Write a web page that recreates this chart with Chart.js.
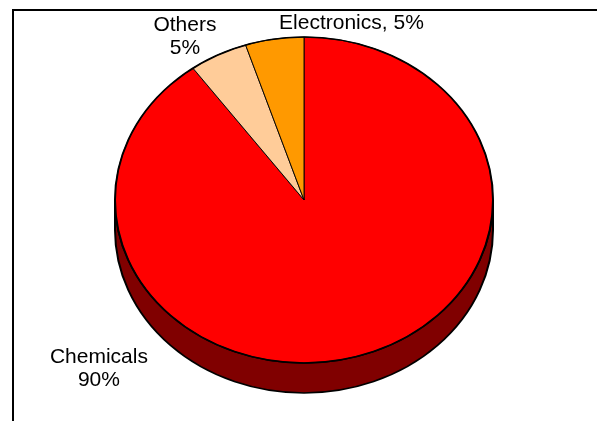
<!DOCTYPE html>
<html lang="en">
<head>
    <meta charset="UTF-8">
    <title>Market share 3D pie</title>
    <script src="https://cdn.jsdelivr.net/npm/chart.js"></script>
    <style>
        body {
            margin: 0;
            padding: 0;
            background: #fff;
        }
        .container {
            position: relative;
            width: 597px;
            height: 421px;
        }
    </style>
</head>
<body>
    <div class="container">
        <canvas id="grafico"></canvas>
    </div>

    <script>
        // data
        const categories = ['Chemicals', 'Others', 'Electronics'];
        const shares = [90, 5, 5];

        // styles
        const topColors = ['#FF0000', '#FFCC99', '#FF9900'];
        const sideColors = ['#800000', '#806650', '#804C00'];
        // label anchor (centre x, first baseline) as fractions of the radii
        const labelLayout = [
            { fx: -1.085, fy: 1.0, stacked: true },
            { fx: -0.63, fy: -1.037, stacked: true },
            { fx: 0.251, fy: -1.049, stacked: false }
        ];
        const TILT = 163 / 189;   // vertical squash of the pie top
        const DEPTH = 30;         // thickness of the side wall, px

        const pie3d = {
            id: 'pie3d',
            beforeDraw(chart) {
                // chart frame (only top and left edges fall inside the picture)
                const ctx = chart.ctx;
                ctx.save();
                ctx.strokeStyle = '#000';
                ctx.lineWidth = 2;
                ctx.beginPath();
                ctx.moveTo(13, chart.height);
                ctx.lineTo(13, 10);
                ctx.lineTo(chart.width, 10);
                ctx.stroke();
                ctx.restore();
            },
            beforeDatasetsDraw(chart) {
                const ctx = chart.ctx;
                const arcs = chart.getDatasetMeta(0).data;
                const cx = arcs[0].x, cy = arcs[0].y, r = arcs[0].outerRadius;
                const d = DEPTH / TILT;
                ctx.save();
                ctx.translate(cx, cy);
                ctx.scale(1, TILT);
                ctx.translate(-cx, -cy);

                // front side wall: only angles between 0 and PI face the viewer
                arcs.forEach((arc, i) => {
                    for (let k = -1; k <= 1; k++) {
                        const lo = Math.max(arc.startAngle, 2 * Math.PI * k);
                        const hi = Math.min(arc.endAngle, 2 * Math.PI * k + Math.PI);
                        if (hi <= lo) continue;
                        ctx.beginPath();
                        ctx.arc(cx, cy, r, lo, hi);
                        ctx.lineTo(cx + r * Math.cos(hi), cy + d + r * Math.sin(hi));
                        ctx.arc(cx, cy + d, r, hi, lo, true);
                        ctx.closePath();
                        ctx.fillStyle = sideColors[i];
                        ctx.fill();
                        ctx.lineWidth = 2;
                        ctx.strokeStyle = '#000';
                        ctx.stroke();
                    }
                });
            },
            afterDatasetsDraw(chart) {
                const ctx = chart.ctx;
                const arc = chart.getDatasetMeta(0).data[0];
                // thicker rim on the top face
                ctx.beginPath();
                ctx.arc(arc.x, arc.y, arc.outerRadius, 0, Math.PI * 2);
                ctx.lineWidth = 2;
                ctx.strokeStyle = '#000';
                ctx.stroke();
                ctx.restore();
            },
            afterDraw(chart) {
                const ctx = chart.ctx;
                const arc = chart.getDatasetMeta(0).data[0];
                const r = arc.outerRadius, ry = r * TILT;
                ctx.save();
                ctx.font = '21px "Liberation Sans", Arial, sans-serif';
                ctx.fillStyle = '#000';
                ctx.textAlign = 'center';
                ctx.textBaseline = 'alphabetic';
                categories.forEach((name, i) => {
                    const lay = labelLayout[i];
                    const lines = lay.stacked
                        ? [name, shares[i] + '%']
                        : [name + ', ' + shares[i] + '%'];
                    const x = arc.x + lay.fx * r;
                    const y = arc.y + lay.fy * ry;
                    lines.forEach((t, k) => ctx.fillText(t, x, y + k * 23));
                });
                ctx.restore();
            }
        };

        new Chart(document.getElementById('grafico'), {
            type: 'pie',
            data: {
                labels: categories,
                datasets: [{
                    data: shares,
                    backgroundColor: topColors,
                    borderColor: '#000',
                    borderWidth: 1,
                    clip: false
                }]
            },
            options: {
                responsive: true,
                maintainAspectRatio: false,
                animation: false,
                events: [],
                radius: 189,
                layout: {
                    padding: { left: 115, right: 104, top: 11, bottom: 32 }
                },
                plugins: {
                    legend: { display: false },
                    tooltip: { enabled: false }
                }
            },
            plugins: [pie3d]
        });
    </script>
</body>
</html>
